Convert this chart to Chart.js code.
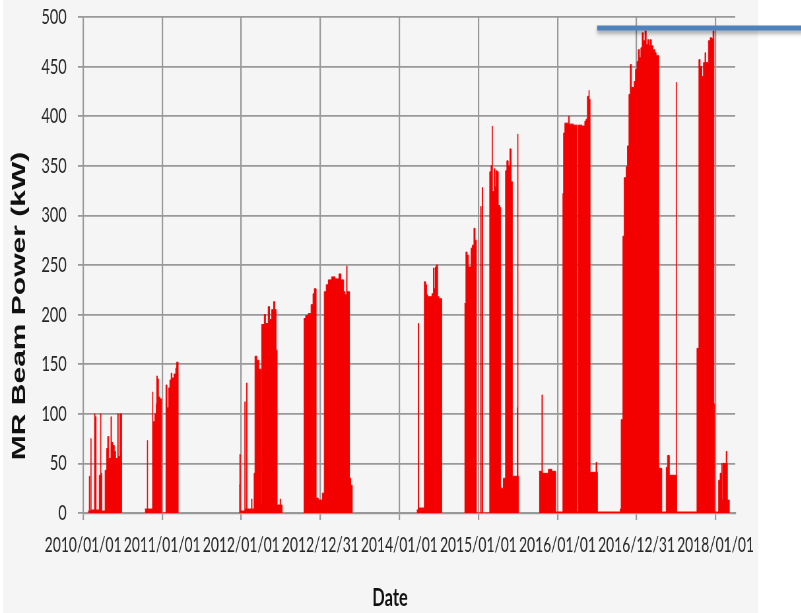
<!DOCTYPE html>
<html>
<head>
<meta charset="utf-8">
<script src="https://cdn.jsdelivr.net/npm/chart.js@4/dist/chart.umd.min.js"></script>
<style>
  html, body { margin: 0; padding: 0; width: 801px; height: 613px; overflow: hidden; background: #ffffff; }
  #panel { position: absolute; left: 3px; top: 0; width: 755px; height: 613px; background: #f4f5f4; }
  #wrap { position: absolute; left: 0; top: 0; transform-origin: 0 0; }
</style>
</head>
<body>
<div id="panel"></div>
<div id="wrap"><canvas id="chart" width="1214" height="613"></canvas></div>
<script>
// Beam power per operating run: [days since 2010/01/01, kW]; each value holds until the next entry.
const run2010 = [[23,2],[28,37],[30,2],[35,75],[37,3],[52,100],[55,97],[60,3],[74,38],[80,100],[82,40],[86,2],
  [101,43],[108,65],[113,77],[118,55],[128,97],[131,71],[137,68],[144,62],[150,55],[159,100],[162,57],
  [169,100],[172,62],[174,100],[178,0]];
const run2011 = [[285,4],[296,73],[298,4],[320,122],[322,92],[331,100],[337,110],[339,138],[343,135],
  [348,117],[354,115],[362,0],[382,129],[387,106],[394,126],[400,134],[406,141],[410,136],[419,140],
  [427,146],[431,152],[439,0]];
const run2012 = [[720,28],[723,59],[726,2],[746,112],[749,4],[754,131],[757,4],[777,14],[780,4],[789,40],
  [793,158],[802,154],[811,145],[821,8],[824,190],[836,200],[842,191],[854,208],[861,195],[870,205],
  [879,213],[885,205],[891,164],[896,8],[909,14],[912,8],[919,0]];
const run2013 = [[1018,196],[1027,199],[1039,201],[1052,210],[1061,221],[1067,226],[1076,15],[1086,13],
  [1104,20],[1113,223],[1122,230],[1132,235],[1147,238],[1163,236],[1181,241],[1190,235],[1203,223],
  [1209,220],[1216,249],[1219,223],[1230,35],[1236,28],[1243,0]];
const run2014 = [[1540,3],[1547,191],[1550,5],[1575,233],[1582,230],[1586,220],[1591,54],[1593,218],
  [1610,221],[1617,247],[1621,226],[1626,248],[1631,250],[1637,218],[1643,216],[1656,0]];
const run2015 = [[1760,211],[1767,263],[1773,260],[1779,248],[1791,267],[1797,270],[1804,287],[1810,275],
  [1816,0],[1835,309],[1838,0],[1842,328],[1845,0],[1877,344],[1883,350],[1888,390],[1890,324],[1898,347],
  [1902,329],[1907,345],[1911,344],[1917,310],[1924,308],[1928,25],[1940,35],[1950,345],[1956,355],
  [1963,350],[1970,367],[1976,334],[1982,37],[2004,106],[2006,382],[2008,37],[2011,0]];
const run2016 = [[2105,42],[2118,119],[2121,40],[2148,44],[2164,42],[2182,1],[2215,322],[2218,383],
  [2224,393],[2241,400],[2245,392],[2264,391],[2281,1],[2287,391],[2303,390],[2316,395],[2322,397],
  [2328,420],[2335,426],[2337,417],[2341,41],[2368,51],[2372,41],[2375,1]];
const run2017 = [[2480,4],[2484,94],[2492,279],[2498,338],[2507,349],[2513,370],[2520,422],[2526,452],
  [2532,429],[2544,435],[2550,447],[2557,455],[2563,467],[2569,459],[2575,469],[2581,484],[2587,476],
  [2594,486],[2600,472],[2606,477],[2612,471],[2618,477],[2624,471],[2631,467],[2640,464],[2646,461],
  [2658,45],[2672,1],[2692,46],[2698,58],[2707,38],[2738,434],[2740,38],[2741,1]];
const run2018 = [[2834,166],[2843,457],[2849,450],[2857,440],[2864,454],[2871,464],[2875,100],[2877,454],
  [2887,476],[2895,479],[2903,478],[2908,486],[2913,110],[2916,1],[2934,33],[2941,40],[2948,50],[2950,13],
  [2953,50],[2969,62],[2973,50],[2975,13],[2984,0]];
const runs = [run2010, run2011, run2012, run2013, run2014, run2015, run2016, run2017, run2018];

// Peak-power marker line: level in kW and the days it spans
const peakLevel = 489;
const peakSpan = [2373, 3330];

// Axis ticks
const dateLabels = ['2010/01/01','2011/01/01','2012/01/01','2012/12/31','2014/01/01',
  '2015/01/01','2016/01/01','2016/12/31','2018/01/01'];
const dayStep = 365;
const dayMax = 3011;
const powerMin = 0, powerMax = 500, powerStep = 50;
const yTitle = 'MR Beam Power (kW)';
const xTitle = 'Date';

// Horizontal squeeze of the drawing
const X_SQUEEZE = 0.66;
document.getElementById('wrap').style.transform = 'scaleX(' + X_SQUEEZE + ')';

// Flatten the runs into one stepped series; a run ending at 0 breaks the line
const powerPoints = [];
runs.forEach((run) => {
  run.forEach(([d, p]) => powerPoints.push({ x: d, y: p }));
  if (run[run.length - 1][1] === 0) powerPoints.push({ x: run[run.length - 1][0] + 1, y: null });
});

const RED = '#f30000';
const GRID = '#999999';

const markerShadow = {
  id: 'markerShadow',
  beforeDatasetDraw(chart, args) {
    if (chart.data.datasets[args.index].label === 'peak') {
      const ctx = chart.ctx;
      ctx.save();
      ctx.shadowColor = 'rgba(0,0,0,0.35)';
      ctx.shadowBlur = 4;
      ctx.shadowOffsetY = 3;
    }
  },
  afterDatasetDraw(chart, args) {
    if (chart.data.datasets[args.index].label === 'peak') chart.ctx.restore();
  }
};

const axisTitles = {
  id: 'axisTitles',
  afterDraw(chart) {
    const ctx = chart.ctx;
    ctx.save();
    ctx.fillStyle = '#111111';
    ctx.textAlign = 'center';
    ctx.textBaseline = 'middle';
    ctx.font = 'bold 30px "Liberation Sans", Arial, sans-serif';
    ctx.translate(30, 306);
    ctx.rotate(-Math.PI / 2);
    ctx.fillText(yTitle, 0, 0);
    ctx.restore();
    ctx.save();
    ctx.fillStyle = '#111111';
    ctx.textAlign = 'center';
    ctx.textBaseline = 'middle';
    ctx.font = 'bold 25px Lato, "Open Sans", sans-serif';
    ctx.fillText(xTitle, 591, 598);
    ctx.restore();
  }
};

new Chart(document.getElementById('chart'), {
  type: 'line',
  data: {
    datasets: [
      {
        label: 'peak',
        data: [{ x: peakSpan[0], y: peakLevel }, { x: peakSpan[1], y: peakLevel }],
        borderColor: '#4f81bd',
        borderWidth: 5,
        pointRadius: 0,
        fill: false,
        clip: false,
        order: 0
      },
      {
        label: 'power',
        data: powerPoints,
        borderColor: RED,
        backgroundColor: RED,
        borderWidth: 1,
        pointRadius: 0,
        stepped: true,
        fill: 'origin',
        spanGaps: false,
        order: 1
      }
    ]
  },
  options: {
    responsive: false,
    animation: false,
    devicePixelRatio: 1,
    layout: { padding: { left: 0, top: 17, right: 100, bottom: 0 } },
    plugins: { legend: { display: false }, tooltip: { enabled: false } },
    scales: {
      x: {
        type: 'linear',
        min: 0,
        max: dayMax,
        bounds: 'data',
        afterBuildTicks(scale) {
          scale.ticks = dateLabels.map((_, i) => ({ value: i * dayStep }));
        },
        afterFit(scale) {
          scale.height = 100;
          scale.paddingLeft = 0;
          scale.paddingRight = 0;
        },
        grid: { color: GRID, lineWidth: 2.2, tickLength: 7 },
        border: { color: GRID, width: 2.2 },
        ticks: {
          autoSkip: false,
          maxRotation: 0,
          padding: 13,
          color: '#262626',
          font: { family: 'Lato, "Open Sans", sans-serif', size: 21 },
          callback: (v) => dateLabels[Math.round(v / dayStep)] ?? ''
        }
      },
      y: {
        min: powerMin,
        max: powerMax,
        afterFit(scale) {
          scale.width = 126;
          scale.paddingTop = 0;
          scale.paddingBottom = 0;
        },
        grid: { color: GRID, lineWidth: 1.8, tickLength: 8 },
        border: { color: GRID, width: 1.8 },
        ticks: {
          stepSize: powerStep,
          padding: 17,
          color: '#262626',
          font: { family: 'Lato, "Open Sans", sans-serif', size: 22 }
        }
      }
    }
  },
  plugins: [markerShadow, axisTitles]
});
</script>
</body>
</html>
